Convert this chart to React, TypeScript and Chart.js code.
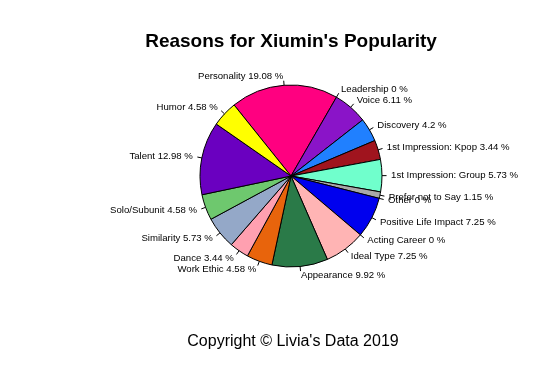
import React, { useEffect, useRef } from "react";
import { Chart, registerables } from "chart.js";

Chart.register(...registerables);

const categories: string[] = [
  "Personality",
  "Leadership",
  "Voice",
  "Discovery",
  "1st Impression: Kpop",
  "1st Impression: Group",
  "Prefer not to Say",
  "Other",
  "Positive Life Impact",
  "Acting Career",
  "Ideal Type",
  "Appearance",
  "Work Ethic",
  "Dance",
  "Similarity",
  "Solo/Subunit",
  "Talent",
  "Humor",
];

const percentages: number[] = [
  19.08, 0, 6.11, 4.2, 3.44, 5.73, 1.15, 0, 7.25, 0, 7.25, 9.92, 4.58, 3.44, 5.73, 4.58, 12.98, 4.58,
];

const sliceColors: string[] = [
  "#FF0080",
  "#8A14C8",
  "#8A14C8",
  "#2080FF",
  "#A0141E",
  "#70FFCC",
  "#A8A8A8",
  "#A8A8A8",
  "#0000EE",
  "#FFB4B4",
  "#FFB4B4",
  "#2A7A48",
  "#E8640C",
  "#FFA0B0",
  "#94A8C8",
  "#6EC86E",
  "#6A00C0",
  "#FFFF00",
];

const titleText = "Reasons for Xiumin's Popularity";
const footerText = "Copyright \u00A9 Livia's Data 2019";

const FONT = '"Liberation Sans", Arial, Helvetica, sans-serif';

const outsideLabels = {
  id: "outsideLabels",
  afterDatasetsDraw(chart: any) {
    const ctx = chart.ctx;
    const meta = chart.getDatasetMeta(0);
    ctx.save();
    ctx.strokeStyle = "#000";
    ctx.lineWidth = 1;
    ctx.fillStyle = "#000";
    ctx.font = `9.6px ${FONT}`;
    ctx.textBaseline = "middle";
    meta.data.forEach((arc: any, i: number) => {
      const { x, y, startAngle, endAngle, outerRadius } = arc.getProps(
        ["x", "y", "startAngle", "endAngle", "outerRadius"],
        true
      );
      const mid = (startAngle + endAngle) / 2;
      const c = Math.cos(mid);
      const s = Math.sin(mid);
      ctx.beginPath();
      ctx.moveTo(x + outerRadius * c, y + outerRadius * s);
      ctx.lineTo(x + outerRadius * 1.05 * c, y + outerRadius * 1.05 * s);
      ctx.stroke();
      ctx.textAlign = c < 0 ? "right" : "left";
      const label = `${categories[i]} ${percentages[i]} %`;
      ctx.fillText(label, x + outerRadius * 1.1 * c, y + outerRadius * 1.1 * s);
    });
    ctx.restore();
  },
  afterDraw(chart: any) {
    const ctx = chart.ctx;
    ctx.save();
    ctx.fillStyle = "#000";
    ctx.textAlign = "center";
    ctx.textBaseline = "middle";
    ctx.font = `bold 19px ${FONT}`;
    ctx.fillText(titleText, 291, 42);
    ctx.font = `16px ${FONT}`;
    ctx.fillText(footerText, 293, 342);
    ctx.restore();
  },
};

export default function App() {
  const ref = useRef<HTMLCanvasElement | null>(null);
  useEffect(() => {
    if (!ref.current) return;
    const chart = new Chart(ref.current, {
      type: "pie",
      data: {
        labels: categories,
        datasets: [
          {
            data: percentages,
            backgroundColor: sliceColors,
            borderColor: "#000",
            borderWidth: 1,
            borderAlign: "center",
          },
        ],
      },
      options: {
        responsive: false,
        animation: false,
        rotation: -38.7,
        layout: {
          padding: { left: 199.5, right: 162.5, top: 84.5, bottom: 104.5 },
        },
        plugins: {
          legend: { display: false },
          tooltip: { enabled: false },
          title: { display: false },
        },
      },
      plugins: [outsideLabels],
    });
    return () => chart.destroy();
  }, []);
  return (
    <div style={{ position: "fixed", left: 0, top: 0, width: 545, height: 372, background: "#fff" }}>
      <canvas ref={ref} width={545} height={372} />
    </div>
  );
}
